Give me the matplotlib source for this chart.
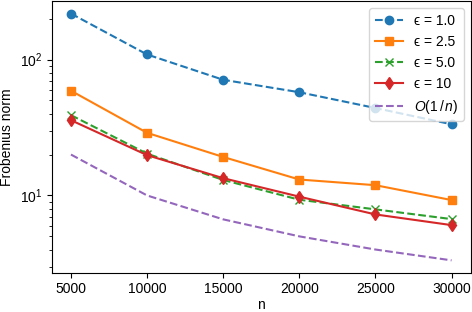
import numpy as np
import matplotlib.pyplot as plt

plt.rcParams['font.family'] = ['Liberation Sans', 'DejaVu Sans']
plt.rcParams['mathtext.fontset'] = 'custom'
plt.rcParams['mathtext.rm'] = 'Liberation Sans'
plt.rcParams['mathtext.it'] = 'Liberation Sans:italic'
plt.rcParams['font.size'] = 10

n = [5000, 10000, 15000, 20000, 25000, 30000]
eps_1 = [218, 109, 71, 57.5, 44, 33.4]
eps_25 = [59, 28.9, 19.2, 13.1, 11.9, 9.25]
eps_5 = [39, 20.3, 13.0, 9.3, 7.9, 6.7]
eps_10 = [35.8, 19.8, 13.4, 9.8, 7.25, 6.05]
ref = [20, 10, 6.67, 5, 4, 3.33]

fig, ax = plt.subplots(figsize=(4.72, 3.12), dpi=100)
fig.subplots_adjust(left=0.110, right=0.997, top=0.996, bottom=0.126)

ax.plot(n, eps_1, 'o--', color='tab:blue', label='\u03f5 = 1.0')
ax.plot(n, eps_25, 's-', color='tab:orange', label='\u03f5 = 2.5')
ax.plot(n, eps_5, 'x--', color='tab:green', label='\u03f5 = 5.0')
ax.plot(n, eps_10, 'd-', color='tab:red', label='\u03f5 = 10')
ax.plot(n, ref, '--', color='tab:purple', label=r'$O(1\,/\,n)$')

ax.set_yscale('log')
ax.set_xticks(n)
ax.set_xlabel('n', labelpad=1)
ax.set_ylabel('Frobenius norm')
ax.legend(loc='upper right')

fig.savefig('out.png', dpi=100)
